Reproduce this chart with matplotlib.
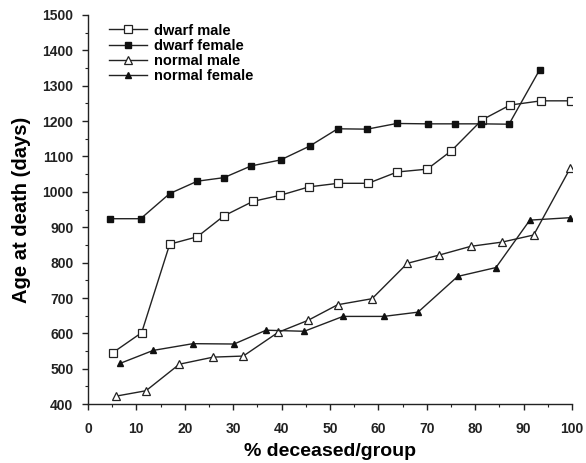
import matplotlib
matplotlib.use('Agg')

import matplotlib.pyplot as plt
from matplotlib.ticker import MultipleLocator

plt.rcParams['font.family'] = ['Liberation Sans', 'DejaVu Sans']
plt.rcParams['font.weight'] = 'bold'

# % deceased per group vs. age at death (days)
dm_x = [5.2, 11.1, 16.9, 22.6, 28.1, 34.1, 39.7, 45.7, 51.7, 57.9, 63.9, 70.1,
        75.1, 81.4, 87.2, 93.6, 99.8]
dm_y = [546, 602, 852, 873, 932, 973, 990, 1014, 1024, 1024, 1056, 1064,
        1116, 1203, 1245, 1257, 1257]

df_x = [4.5, 10.9, 16.9, 22.6, 28.1, 33.7, 39.8, 45.8, 51.6, 57.7, 63.8, 70.3,
        75.8, 81.2, 87.0, 93.3]
df_y = [924, 924, 995, 1030, 1040, 1073, 1090, 1129, 1178, 1177, 1193, 1192,
        1192, 1192, 1191, 1344]

nm_x = [5.9, 12.0, 18.9, 25.9, 32.1, 39.3, 45.5, 51.6, 58.7, 66.0, 72.5, 79.1,
        85.6, 92.1, 99.7]
nm_y = [423, 438, 513, 533, 536, 603, 637, 681, 698, 798, 821, 846, 858, 878, 1068]

nf_x = [6.6, 13.5, 21.7, 30.2, 36.8, 44.7, 52.7, 61.1, 68.2, 76.4, 84.3, 91.3, 99.7]
nf_y = [515, 552, 571, 570, 609, 606, 648, 648, 660, 761, 786, 920, 927]


def main() -> None:
    fig = plt.figure(figsize=(5.86, 4.63), dpi=100)
    ax = fig.add_axes([0.150, 0.127, 0.826, 0.841])

    line_kw = dict(color='#222222', lw=1.0)
    ax.plot(dm_x, dm_y, marker='s', ms=5.5, mfc='white', mec='#222222', mew=0.9,
            label='dwarf male', **line_kw)
    ax.plot(df_x, df_y, marker='s', ms=5, mfc='#111111', mec='#111111',
            label='dwarf female', **line_kw)
    ax.plot(nm_x, nm_y, marker='^', ms=5.5, mfc='white', mec='#222222', mew=0.9,
            label='normal male', **line_kw)
    ax.plot(nf_x, nf_y, marker='^', ms=5, mfc='#111111', mec='#111111',
            label='normal female', **line_kw)

    ax.set_xlim(0, 100)
    ax.set_ylim(400, 1500)
    ax.xaxis.set_major_locator(MultipleLocator(10))
    ax.xaxis.set_minor_locator(MultipleLocator(5))
    ax.yaxis.set_major_locator(MultipleLocator(100))
    ax.yaxis.set_minor_locator(MultipleLocator(50))

    for side in ('top', 'right'):
        ax.spines[side].set_visible(False)
    for side in ('left', 'bottom'):
        ax.spines[side].set_linewidth(1.0)
        ax.spines[side].set_color('#222222')

    ax.tick_params(which='major', length=4.5, width=1.0, labelsize=10,
                   colors='#222222')
    ax.tick_params(axis='x', which='major', pad=8)
    ax.tick_params(axis='y', which='major', pad=6)
    ax.tick_params(which='minor', length=2.5, width=0.8, colors='#222222')

    ax.set_xlabel('% deceased/group', fontsize=14, fontweight='bold', labelpad=5)
    ax.set_ylabel('Age at death (days)', fontsize=14.5, fontweight='bold', labelpad=8)

    leg = ax.legend(loc='upper left', bbox_to_anchor=(0.025, 1.0), frameon=False,
                    fontsize=10.5, handlelength=2.6, handletextpad=0.5,
                    labelspacing=0.08, borderaxespad=0.2)
    for t in leg.get_texts():
        t.set_fontweight('bold')

    fig.savefig('out.png', dpi=100, facecolor='white')
    plt.close(fig)


if __name__ == '__main__':
    main()
